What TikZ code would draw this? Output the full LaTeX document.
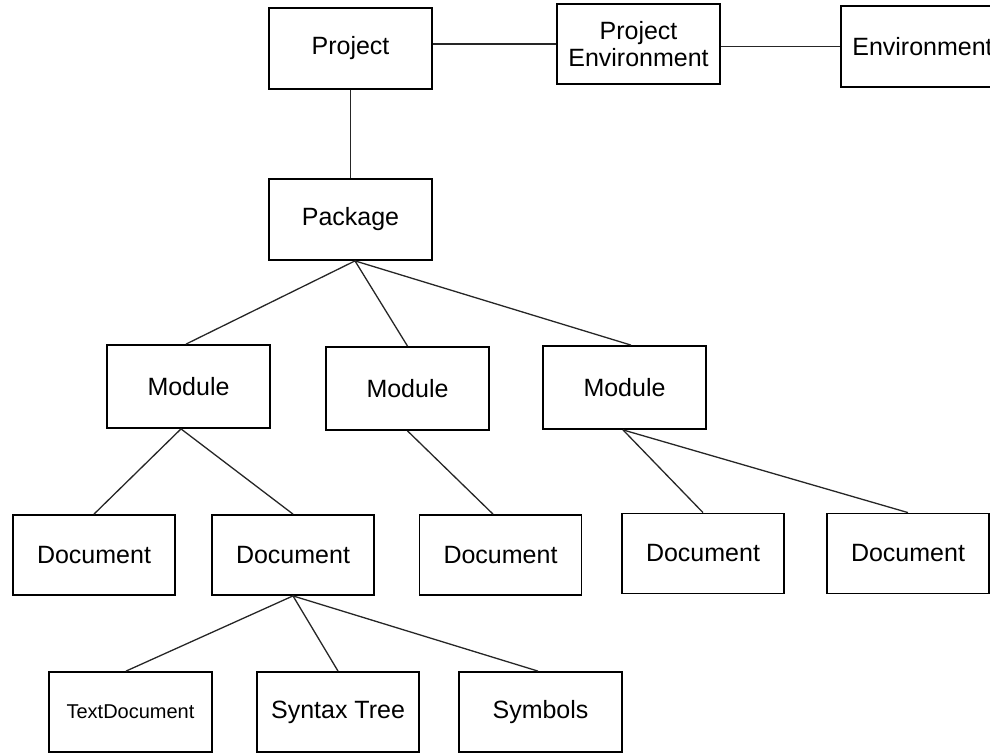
\documentclass[tikz,border=0pt]{standalone}
\usepackage{fontspec}
\setmainfont{Liberation Sans}
\begin{document}
\begin{tikzpicture}[x=1pt,y=-1pt,
  box/.style={draw=black, line width=1.8pt, fill=white, inner sep=0pt,
    minimum width=163pt, minimum height=81pt, align=center,
    font=\fontsize{25}{27}\selectfont},
  smallbox/.style={box, font=\fontsize{20}{23}\selectfont},
  link/.style={draw=black!85, line width=1.3pt}]
\useasboundingbox (0,0) rectangle (990,754);
\clip (0,0) rectangle (990,754);

% top row
\node[box] (proj) at (350.5,48.5) {Project};
\node[box, minimum height=80pt] (penv) at (638.5,44) {Project\\Environment};
\node[box] (env) at (922.5,46.5) {Environment};
\node[box] (pkg) at (350.5,219.5) {Package};

% modules
\node[box, minimum height=83pt] (m1) at (188.5,386.5) {Module};
\node[box, minimum height=83pt] (m2) at (407.5,388.5) {Module};
\node[box, minimum height=83pt] (m3) at (624.5,387.5) {Module};

% documents
\node[box, minimum width=162pt, minimum height=80pt] (d1) at (94,555) {Document};
\node[box, minimum width=162pt, minimum height=80pt] (d2) at (293,555) {Document};
\node[box, minimum width=162pt, minimum height=80pt] (d3) at (500.5,555) {Document};
\node[box, minimum width=162pt, minimum height=80pt] (d4) at (703,553.5) {Document};
\node[box, minimum width=162pt, minimum height=80pt] (d5) at (908,553.5) {Document};

% document contents
\node[smallbox, minimum height=80pt] (td) at (130.5,712) {TextDocument};
\node[box, minimum width=162pt, minimum height=80pt] (st) at (338,712) {Syntax Tree};
\node[box, minimum height=80pt] (sy) at (540.5,712) {Symbols};

% connectors
\draw[link] (penv.west) -- (penv.west -| proj.east);
\draw[link] (penv.east |- env.west) -- (env.west);
\draw[link] (proj.south) -- (pkg.north);

\draw[link] ([xshift=4.5pt]pkg.south) -- ([xshift=-2.5pt]m1.north);
\draw[link] ([xshift=4.5pt]pkg.south) -- (m2.north);
\draw[link] ([xshift=4.5pt]pkg.south) -- ([xshift=6.5pt]m3.north);

\draw[link] ([xshift=-7.5pt]m1.south) -- (d1.north);
\draw[link] ([xshift=-7.5pt]m1.south) -- (d2.north);
\draw[link] (m2.south) -- ([xshift=-7.5pt]d3.north);
\draw[link] ([xshift=-1.5pt]m3.south) -- (d4.north);
\draw[link] ([xshift=-1.5pt]m3.south) -- (d5.north);

\draw[link] (d2.south) -- ([xshift=-4.5pt]td.north);
\draw[link] (d2.south) -- (st.north);
\draw[link] (d2.south) -- ([xshift=-2.5pt]sy.north);
\end{tikzpicture}
\end{document}
